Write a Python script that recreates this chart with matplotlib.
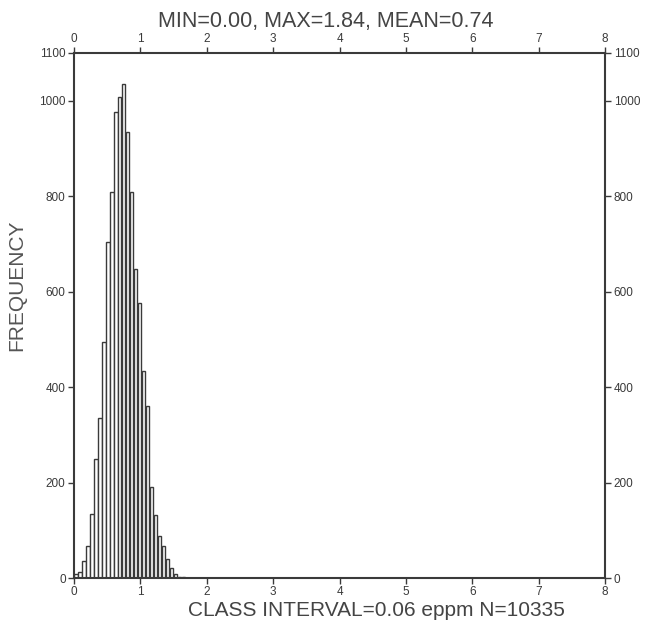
import numpy as np
import matplotlib.pyplot as plt

# Frequencia por classe (largura 0.06 eppm), a partir de 0
largura = 0.06
freq = [8, 12, 36, 68, 135, 250, 335, 495, 703, 808, 977, 1008, 1035, 935,
        808, 647, 577, 434, 360, 190, 131, 89, 68, 40, 22, 8, 3, 2, 1, 1, 1]
inicio = np.arange(len(freq)) * largura

titulo = "MIN=0.00, MAX=1.84, MEAN=0.74"
rotulo_x = "CLASS INTERVAL=0.06 eppm N=10335"
rotulo_y = "FREQUENCY"
ticks_x = [0, 1, 2, 3, 4, 5, 6, 7, 8]
ticks_y = [0, 200, 400, 600, 800, 1000, 1100]

plt.rcParams['font.family'] = ['Liberation Sans', 'DejaVu Sans']
cinza = '#3a3a3a'

fig = plt.figure(figsize=(6.51, 6.20), dpi=100)
ax = fig.add_axes([0.1137, 0.0677, 0.816, 0.847])

ax.bar(inicio + 0.005, freq, width=largura - 0.01, align='edge',
       facecolor='white', edgecolor=cinza, linewidth=1.0)

ax.set_xlim(0, 8)
ax.set_ylim(0, 1100)
ax.set_xticks(ticks_x)
ax.set_yticks(ticks_y)
ax.tick_params(axis='both', direction='out', length=4, width=1, colors=cinza,
               labelsize=8.5, pad=2, top=True, right=True, labeltop=True, labelright=True)
for s in ax.spines.values():
    s.set_linewidth(1.5)
    s.set_color(cinza)

fig.text(0.5, 0.966, titulo, ha='center', va='center', fontsize=15.5, color='#444444')
fig.text(0.579, 0.016, rotulo_x, ha='center', va='center', fontsize=15, color='#444444')
fig.text(0.026, 0.54, rotulo_y, ha='center', va='center', rotation=90,
         fontsize=15, color='#555555')

fig.savefig('out.png', dpi=100)
